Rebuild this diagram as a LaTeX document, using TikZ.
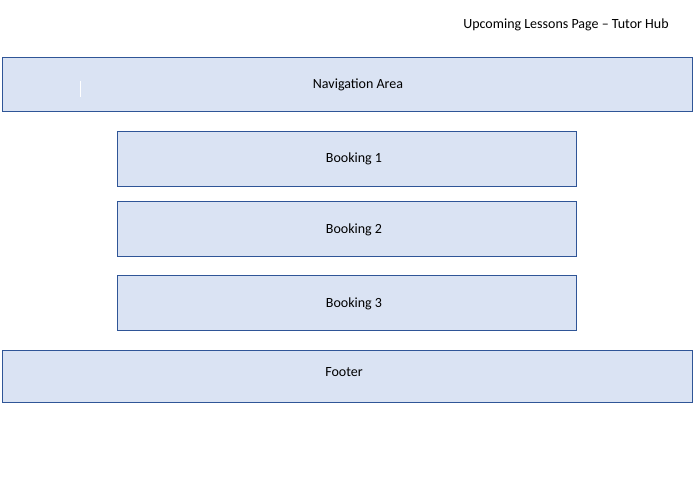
\documentclass[tikz,border=0pt]{standalone}
\usepackage{fontspec}
\setmainfont{Carlito}
\usepackage{xcolor}
\usetikzlibrary{positioning}
\definecolor{hubFill}{RGB}{218,227,243}
\definecolor{hubLine}{RGB}{47,85,151}
\tikzset{
  areabox/.style={rectangle, draw=hubLine, fill=hubFill, line width=0.9pt,
    minimum width=690pt, minimum height=54pt, inner sep=0pt},
  bookingbox/.style={areabox, minimum width=459pt, minimum height=55pt},
  boxlabel/.style={font=\fontsize{14}{16}\selectfont, inner sep=0pt},
  pagetitle/.style={font=\fontsize{14}{16}\selectfont, inner sep=0pt},
}
\begin{document}
\begin{tikzpicture}[x=1pt, y=-1pt]
  \useasboundingbox (0,0) rectangle (700,479);
  \node[pagetitle] (title) at (566,24.5) {Upcoming Lessons Page -- Tutor Hub};

  \node[areabox] (nav) at (347,84) {};
  \node[boxlabel] (navtext) at ([xshift=11pt, yshift=-1pt]nav.center) {Navigation Area};
  \draw[white, line width=0.6pt] (80,81) -- (80,97);

  \node[bookingbox] (b1) at (346.5,158.5) {};
  \node[boxlabel] (b1text) at ([xshift=7.5pt]b1.center) {Booking 1};
  \node[bookingbox] (b2) at (346.5,228.5) {};
  \node[boxlabel] (b2text) at ([xshift=7.5pt, yshift=-1pt]b2.center) {Booking 2};
  \node[bookingbox] (b3) at (346.5,302.5) {};
  \node[boxlabel] (b3text) at ([xshift=7.5pt, yshift=-1pt]b3.center) {Booking 3};

  \node[areabox, minimum height=52pt] (footer) at (347,376) {};
  \node[boxlabel] (footertext) at ([xshift=-3pt, yshift=3.5pt]footer.center) {Footer};
\end{tikzpicture}
\end{document}
